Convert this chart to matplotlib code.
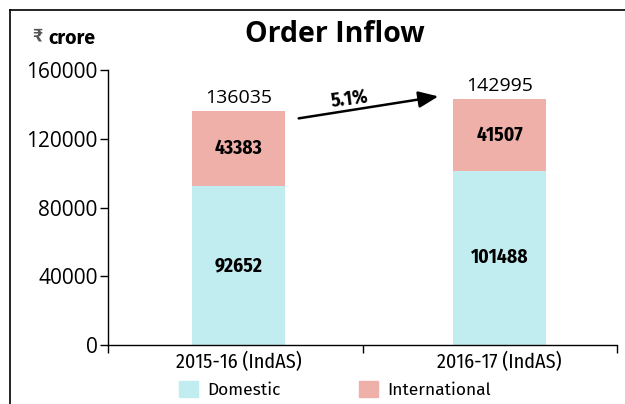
import matplotlib
matplotlib.use("Agg")
import matplotlib.pyplot as plt
from matplotlib.patches import Patch
from matplotlib.lines import Line2D

categories = ["2015-16 (IndAS)", "2016-17 (IndAS)"]
domestic = [92652, 101488]
international = [43383, 41507]
totals = [136035, 142995]
growth_label = "5.1%"
yticks = [0, 40000, 80000, 120000, 160000]

COND = ["Fira Sans Condensed", "DejaVu Sans"]
WIDE = ["Fira Sans", "DejaVu Sans"]
NUM = ["Open Sans", "DejaVu Sans"]
plt.rcParams["font.family"] = COND

fig = plt.figure(figsize=(6.25, 4.04), dpi=100)
ax = fig.add_axes([108/625, 1-345/404, (617-108)/625, (345-70)/404])

c_dom = "#C1ECF0"
c_int = "#F0B0AA"
x = [0, 1]
w = 0.356
ax.bar(x, domestic, width=w, color=c_dom, zorder=2)
ax.bar(x, international, width=w, bottom=domestic, color=c_int, zorder=2)

for xi, d, i, t in zip(x, domestic, international, totals):
    ax.text(xi, d/2, f"{d}", ha="center", va="center", fontsize=14, fontweight="bold")
    ax.text(xi, d + i/2, f"{i}", ha="center", va="center", fontsize=14, fontweight="bold")
    ax.annotate(f"{t}", (xi, d + i), xytext=(0, 3), textcoords="offset points",
                ha="center", va="bottom", fontsize=14, family=NUM)

ax.set_xlim(-0.5, 1.45)
ax.set_ylim(0, 160000)
ax.set_yticks(yticks)
ax.set_yticklabels([str(v) for v in yticks], fontsize=15, family=NUM)
ax.set_xticks(x)
ax.set_xticklabels(categories, fontsize=14.5)
ax.tick_params(axis="x", length=0, pad=5)
ax.set_xticks([-0.5, 0.475, 1.45], minor=True)
ax.tick_params(axis="x", which="minor", length=6, width=1)
ax.tick_params(axis="y", length=6, width=1, pad=1.5)
for s in ["top", "right"]:
    ax.spines[s].set_visible(False)
for s in ["left", "bottom"]:
    ax.spines[s].set_linewidth(1)

# growth arrow
ax.annotate("", xy=(0.776, 144900), xytext=(0.22, 131600),
            arrowprops=dict(arrowstyle="-|>,head_length=1.2,head_width=0.5", color="black", lw=1.8))
ax.text(0.427, 143200, growth_label, ha="center", va="center", fontsize=14,
        fontweight="bold", rotation=7)

fig.text(335/625, 1-34/404, "Order Inflow", fontsize=20.5, fontweight="bold",
         ha="center", va="center", family=["Open Sans", "DejaVu Sans"])
fig.text(32/625, 1-35/404, "\u20b9", fontsize=13, fontweight="bold", color="#555555",
         ha="left", va="center", family=WIDE)
fig.text(48/625, 1-38/404, "crore", fontsize=14, fontweight="bold",
         ha="left", va="center", family=WIDE)

handles = [Patch(color=c_dom), Patch(color=c_int)]
fig.legend(handles, ["Domestic", "International"], loc="center", bbox_to_anchor=(335/625, 1-390/404),
           ncol=2, frameon=False, prop={"family": WIDE, "size": 12.5},
           handlelength=1.1, handleheight=1.0, columnspacing=4.5, handletextpad=0.52)

fig.add_artist(Line2D([10/625, 1], [1-10/404, 1-10/404], color="black", lw=1.2, transform=fig.transFigure))
fig.add_artist(Line2D([10/625, 10/625], [0, 1-10/404], color="black", lw=1.2, transform=fig.transFigure))

fig.savefig("out.png", dpi=100)
